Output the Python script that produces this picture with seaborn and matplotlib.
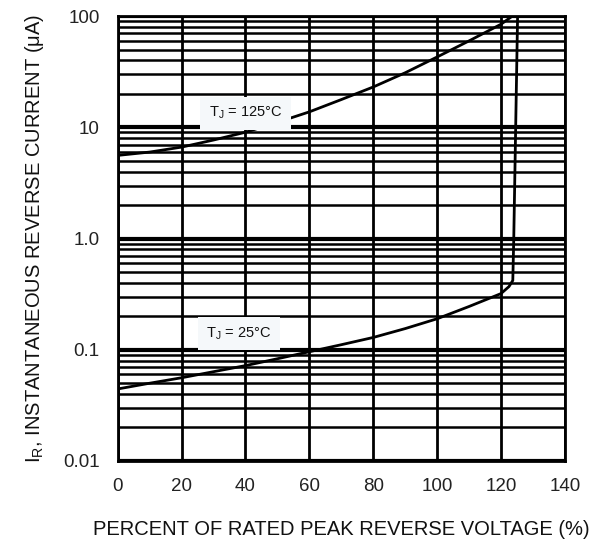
import numpy as np
import pandas as pd
import seaborn as sns
import matplotlib.pyplot as plt
from matplotlib.ticker import LogLocator, FixedLocator, NullFormatter

# values
pct_125 = [0, 10, 20, 30, 40, 50, 60, 70, 80, 90, 100, 110, 120, 123.5]
ir_125 = [5.6, 6.0, 6.65, 7.7, 9.05, 11.1, 13.8, 17.8, 23.1, 31, 43, 60, 84.7, 100]

pct_25 = [0, 10, 20, 30, 40, 50, 60, 70, 80, 90, 100, 110, 120, 122.5, 123.7, 124.0, 124.6, 125.2]
ir_25 = [0.0444, 0.050, 0.056, 0.0635, 0.072, 0.083, 0.096, 0.111, 0.129, 0.155,
         0.19, 0.245, 0.32, 0.37, 0.42, 1.0, 10, 100]

x_ticks = [0, 20, 40, 60, 80, 100, 120, 140]
y_ticks = [0.01, 0.1, 1, 10, 100]
y_ticklabels = ['0.01', '0.1', '1.0', '10', '100']

sns.set_style('white')
plt.rcParams['font.family'] = ['Liberation Sans', 'DejaVu Sans']
plt.rcParams['mathtext.default'] = 'regular'

fig = plt.figure(figsize=(6.1, 5.41), dpi=100)
ax = fig.add_axes([0.193, 0.148, 0.733, 0.822])

df125 = pd.DataFrame({'pct': pct_125, 'ir': ir_125})
df25 = pd.DataFrame({'pct': pct_25, 'ir': ir_25})
sns.lineplot(data=df125, x='pct', y='ir', color='black', linewidth=2, ax=ax,
             estimator=None, sort=False, zorder=3)
sns.lineplot(data=df25, x='pct', y='ir', color='black', linewidth=2, ax=ax,
             estimator=None, sort=False, zorder=3)

ax.set_yscale('log')
ax.set_xlim(0, 140)
ax.set_ylim(0.01, 100)

ax.xaxis.set_major_locator(FixedLocator(x_ticks))
ax.yaxis.set_major_locator(FixedLocator(y_ticks))
ax.set_yticklabels(y_ticklabels)
ax.yaxis.set_minor_locator(LogLocator(base=10, subs=np.arange(2, 10)))
ax.yaxis.set_minor_formatter(NullFormatter())

ax.grid(True, which='major', axis='x', color='black', linewidth=2)
ax.grid(True, which='major', axis='y', color='black', linewidth=3)
ax.grid(True, which='minor', axis='y', color='black', linewidth=1.8)
ax.set_axisbelow(True)

for s in ax.spines.values():
    s.set_color('black')
    s.set_linewidth(2)

ax.tick_params(axis='both', which='both', length=0, labelsize=13.5, labelcolor='#222222')
ax.tick_params(axis='y', pad=13)
ax.tick_params(axis='x', pad=12)

ax.set_xlabel('PERCENT OF RATED PEAK REVERSE VOLTAGE (%)', fontsize=14.5,
              color='#111111', labelpad=18)
ax.set_ylabel('I$_{R}$, INSTANTANEOUS REVERSE CURRENT (μA)', fontsize=14.5,
              color='#111111', labelpad=12)

box = dict(facecolor='#f5f8fa', edgecolor='none', pad=6)
ax.text(40, 13.4, 'T$_{J}$ = 125°C', fontsize=10.5, ha='center', va='center',
        color='#111111', bbox=box, zorder=4)
ax.text(38, 0.14, 'T$_{J}$ = 25°C', fontsize=10.5, ha='center', va='center',
        color='#111111', bbox=box, zorder=4)

fig.savefig('out.png', dpi=100, facecolor='white')
